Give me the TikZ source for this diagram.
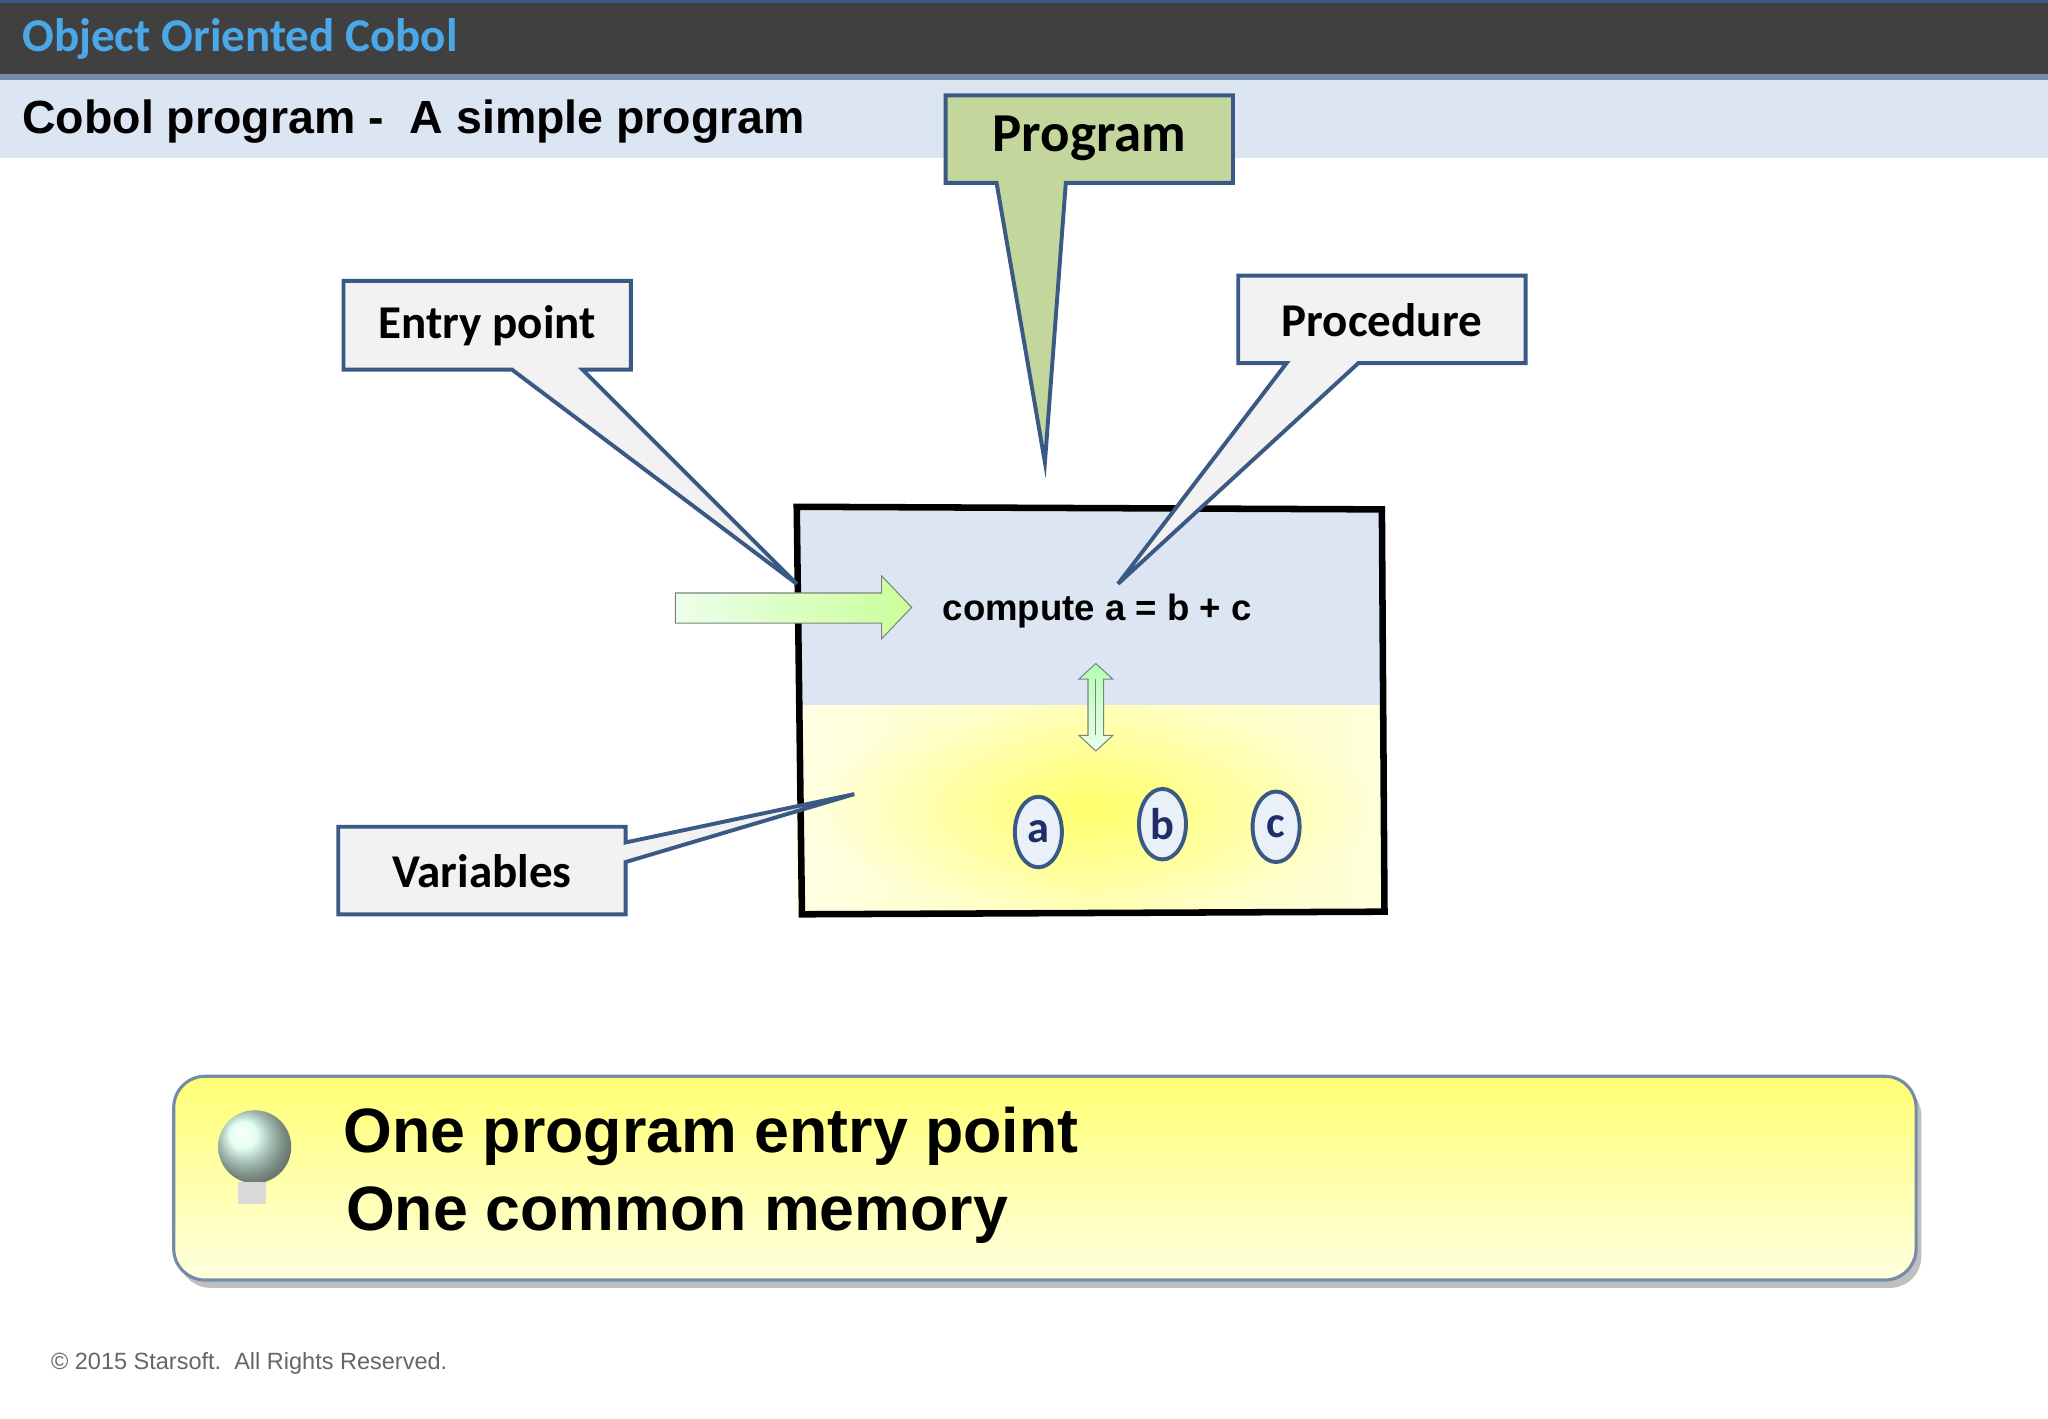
\documentclass[tikz,border=0pt]{standalone}
\usepackage{fontspec}
\setmainfont{Liberation Sans}
\newfontfamily\carl{Carlito}
\usetikzlibrary{shapes.geometric}
\definecolor{bord}{HTML}{3A5A85}
\definecolor{lblue}{HTML}{DCE6F2}
\definecolor{callg}{HTML}{F2F2F2}
\definecolor{progg}{HTML}{C3D69B}
\definecolor{navy}{HTML}{1F2D6B}
\definecolor{ttl}{HTML}{4AA8E8}
\tikzset{
 call/.style={draw=bord,line width=1.5pt,fill=callg},
 clab/.style={font=\carl\bfseries\fontsize{18}{22}\selectfont},
 var/.style={ellipse,draw=bord,line width=1.5pt,fill=lblue!60,minimum width=18pt,minimum height=27pt,inner sep=0pt,text=navy,font=\carl\bfseries\fontsize{17}{20}\selectfont},
 big/.style={anchor=west,font=\bfseries\fontsize{24}{28}\selectfont}
}
\begin{document}
\begin{tikzpicture}[x=0.5pt,y=-0.5pt]
\useasboundingbox (0,0) rectangle (1568,1086);
\fill[white] (0,0) rectangle (1568,1086);
% header
\fill[black!75] (0,0) rectangle (1568,58);
\draw[bord,line width=1.5pt] (0,1) -- (1568,1);
\draw[bord!70,line width=2pt] (0,59) -- (1568,59);
\node[anchor=west,text=ttl,font=\carl\bfseries\fontsize{18}{22}\selectfont] (title) at (10,30) {Object Oriented Cobol};
\fill[lblue] (0,61) rectangle (1568,121);
\node[anchor=west,font=\bfseries\fontsize{17.8}{21}\selectfont] (sub) at (10,93) {Cobol program -\ \ A simple program};
% main box
\fill[lblue] (610,388) rectangle (1058,540);
\shade[left color=yellow!10,right color=yellow!20,middle color=yellow!55] (610,540) rectangle (1058,698);
\shade[inner color=yellow!60,outer color=yellow!10,opacity=0.6] (610,540) rectangle (1058,698);
\draw[line width=2.5pt] (610,388) -- (1058,390) -- (1060,698) -- (614,700) -- cycle;
\node[font=\bfseries\fontsize{14}{17}\selectfont] (comp) at (840,468) {compute a = b + c};
% arrows
\shade[left color=green!8,right color=green!35!lime!40,draw=black!50] (517,454) -- (675,454) -- (675,441) -- (698,465) -- (675,489) -- (675,477) -- (517,477) -- cycle;
\shade[top color=green!30,bottom color=green!8,draw=black!50] (833,520) -- (826,520) -- (839,508) -- (852,520) -- (845,520) -- (845,563) -- (852,563) -- (839,575) -- (826,563) -- (833,563) -- cycle;
\draw[black!50] (839,520) -- (839,563);
% variables
\node[var] (a) at (795,637) {a};
\node[var] (b) at (890,631) {b};
\node[var] (c) at (977,633) {c};
% callouts
\draw[call,fill=progg] (724,73) -- (944,73) -- (944,140) -- (816,140) -- (800,354) -- (763,140) -- (724,140) -- cycle;
\node[clab,font=\carl\bfseries\fontsize{21}{25}\selectfont] (prog) at (834,106) {Program};
\draw[call] (263,215) -- (483,215) -- (483,283) -- (446,283) -- (610,447) -- (392,283) -- (263,283) -- cycle;
\node[clab] (entry) at (373,249) {Entry point};
\draw[call] (948,211) -- (1168,211) -- (1168,278) -- (1040,278) -- (856,447) -- (985,278) -- (948,278) -- cycle;
\node[clab] (proc) at (1058,245) {Procedure};
\draw[call] (259,633) -- (479,633) -- (479,645) -- (654,608) -- (479,660) -- (479,700) -- (259,700) -- cycle;
\node[clab] (vars) at (369,667) {Variables};
% bottom box
\fill[black!25,rounded corners=12pt] (137,830) rectangle (1471,986);
\shade[rounded corners=12pt,top color=yellow!55,bottom color=yellow!12,draw=bord!70,line width=1.2pt] (133,824) rectangle (1467,980);
\shade[ball color=cyan!15,opacity=0.9] (195,878) circle (28);
\fill[black!15] (182,905) rectangle (204,922);
\node[big] (l1) at (256,870) {One program entry point};
\node[big] (l2) at (258,930) {One common memory};
\node[anchor=west,text=black!60,font=\fontsize{9}{11}\selectfont] (copy) at (32,1044) {© 2015 Starsoft.\ \ All Rights Reserved.};
\end{tikzpicture}
\end{document}
